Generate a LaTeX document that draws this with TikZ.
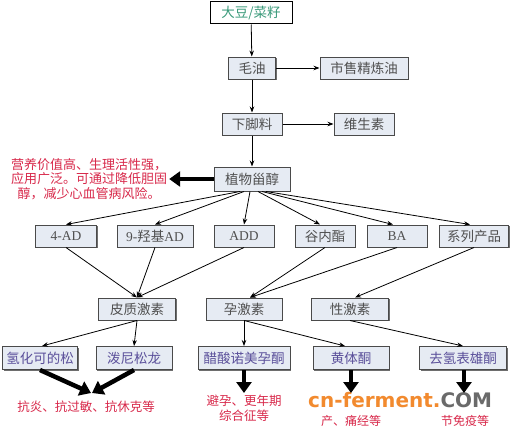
\documentclass[tikz,border=0pt]{standalone}
\usepackage{fontspec}
\usepackage{tikz}
\usetikzlibrary{arrows.meta,shadows}
\setmainfont{Liberation Serif}
\newfontfamily\cjk{Noto Sans CJK SC}
\newfontfamily\wmfont{DejaVu Sans}
\newcommand\lat[1]{{\rmfamily #1}}
\definecolor{boxfill}{HTML}{E6EBF3}
\definecolor{boxline}{HTML}{4A4A4A}
\definecolor{labgray}{HTML}{505050}
\definecolor{labpurple}{HTML}{5A4F9A}
\definecolor{effred}{HTML}{D8284A}
\definecolor{seedgreen}{HTML}{3A9A7A}
\definecolor{wmorange}{HTML}{F28A2E}
\definecolor{wmgray}{HTML}{6A6A6A}

\tikzset{
  stepbox/.style={draw=boxline, line width=1pt, fill=boxfill, text=labgray,
    minimum height=22pt, inner sep=0pt, font=\cjk\fontsize{13.5}{14}\selectfont,
    drop shadow={shadow xshift=1pt, shadow yshift=-1pt, fill=boxline, opacity=0.8}},
  prodbox/.style={stepbox, text=labpurple},
  effect/.style={text=effred, align=center, inner sep=0pt,
    font=\cjk\fontsize{12.5}{15}\selectfont},
  arr/.style={-{Stealth[length=6pt,width=4.5pt]}, line width=0.8pt, black},
  bigarr/.style={-{Triangle[length=11pt,width=15pt]}, line width=4.5pt, black}
}

\begin{document}
\begin{tikzpicture}[x=1pt,y=-1pt]
        \useasboundingbox[fill=white] (0,0) rectangle (513,428);
        % main line
        \node[draw=black, line width=1pt, fill=white, minimum width=82pt, minimum height=22pt,
          inner sep=0pt, text=seedgreen, font=\cjk\fontsize{13.5}{14}\selectfont] (seed) at (251,13) {大豆/菜籽};
        \node[stepbox, minimum width=47pt] (crude) at (252,68) {毛油};
        \node[stepbox, minimum width=88pt] (refined) at (364,68) {市售精炼油};
        \node[stepbox, minimum width=60pt] (residue) at (252,124) {下脚料};
        \node[stepbox, minimum width=60pt] (vite) at (364,124) {维生素};
        \node[stepbox, minimum width=76pt, minimum height=24pt] (sterol) at (252,179) {植物甾醇};
        \node[effect, font=\cjk\fontsize{13}{14.5}\selectfont] (benefit) at (89,179) {营养价值高、生理活性强，\\应用广泛。可通过降低胆固\\醇，减少心血管病风险。};
        % intermediates
        \node[stepbox, minimum width=61pt] (ad4) at (66,236) {\lat{4-AD}};
        \node[stepbox, minimum width=76pt] (ad9) at (155,236) {\lat{9-}羟基\lat{AD}};
        \node[stepbox, minimum width=60pt] (add) at (244,236) {\lat{ADD}};
        \node[stepbox, minimum width=60pt] (lactone) at (325,236) {谷内酯};
        \node[stepbox, minimum width=60pt] (ba) at (397,236) {\lat{BA}};
        \node[stepbox, minimum width=69pt] (series) at (474,236) {系列产品};
        % hormones
        \node[stepbox, minimum width=77pt] (cortico) at (137,309) {皮质激素};
        \node[stepbox, minimum width=76pt] (progest) at (244,309) {孕激素};
        \node[stepbox, minimum width=77pt] (sexhorm) at (350,309) {性激素};
        % drugs
        \node[prodbox, minimum width=75pt, minimum height=23pt] (hydro) at (40,358) {氢化可的松};
        \node[prodbox, minimum width=76pt, minimum height=23pt] (predni) at (134,358) {泼尼松龙};
        \node[prodbox, minimum width=92pt, minimum height=23pt] (nomeg) at (244,358) {醋酸诺美孕酮};
        \node[prodbox, minimum width=76pt, minimum height=23pt] (proges) at (351,358) {黄体酮};
        \node[prodbox, minimum width=87pt, minimum height=23pt] (dhea) at (463,358) {去氢表雄酮};
        % uses
        \coordinate (meet) at (91,393);
        \coordinate (nomegend) at (244,393);
        \coordinate (progesend) at (351,393);
        \coordinate (dheaend) at (464,393);
        \node[effect] (antiinf) at (86,407) {抗炎、抗过敏、抗休克等};
        \node[effect] (contra) at (244,408) {避孕、更年期\\综合征等};
        \node[effect, font=\cjk\fontsize{12}{14}\selectfont] (menses) at (351,421) {产、痛经等};
        \node[effect, font=\cjk\fontsize{12}{14}\selectfont] (immune) at (465,421) {节免疫等};
        \node[anchor=base west, inner sep=0pt, font=\wmfont\bfseries\fontsize{20}{20}\selectfont] (mark) at (308,407)
          {\textcolor{wmorange}{cn-ferment.}\textcolor{wmgray}{COM}};

        \draw[arr] (seed) -- (crude);
        \draw[arr] (crude) -- (refined);
        \draw[arr] (crude) -- (residue);
        \draw[arr] (residue) -- (vite);
        \draw[arr] (residue) -- (sterol);
        \draw[bigarr] (sterol.west) -- ([xshift=2pt]benefit.east);
        \draw[arr] ([xshift=-12pt]sterol.south) -- (ad4.north);
        \draw[arr] ([xshift=-8pt]sterol.south) -- (ad9.north);
        \draw[arr] ([xshift=-2pt]sterol.south) -- (add.north);
        \draw[arr] ([xshift=6pt]sterol.south) -- ([xshift=-5pt]lactone.north);
        \draw[arr] ([xshift=10pt]sterol.south) -- ([xshift=-4pt]ba.north);
        \draw[arr] ([xshift=14pt]sterol.south) -- ([xshift=-4pt]series.north);
        \draw[arr] (ad4.south) -- (cortico.north);
        \draw[arr] (ad9.south) -- (cortico.north);
        \draw[arr] (add.south) -- (cortico.north);
        \draw[arr] (lactone.south) -- ([xshift=6pt]progest.north);
        \draw[arr] (ba.south) -- ([xshift=6pt]progest.north);
        \draw[arr] (series.south) -- ([xshift=5pt]sexhorm.north);
        \draw[arr] (cortico.south) -- ([xshift=2pt]hydro.north);
        \draw[arr] (cortico.south) -- (predni.north);
        \draw[arr] (progest.south) -- (nomeg.north);
        \draw[arr] (progest.south) -- ([xshift=-6pt]proges.north);
        \draw[arr] (sexhorm.south) -- (dhea.north);
        \draw[bigarr] (hydro.south) -- (meet);
        \draw[bigarr] (predni.south) -- ([xshift=1pt]meet);
        \draw[bigarr] (nomeg.south) -- (nomegend);
        \draw[bigarr] (proges.south) -- (progesend);
        \draw[bigarr] ([xshift=1pt]dhea.south) -- (dheaend);
\end{tikzpicture}
\end{document}
